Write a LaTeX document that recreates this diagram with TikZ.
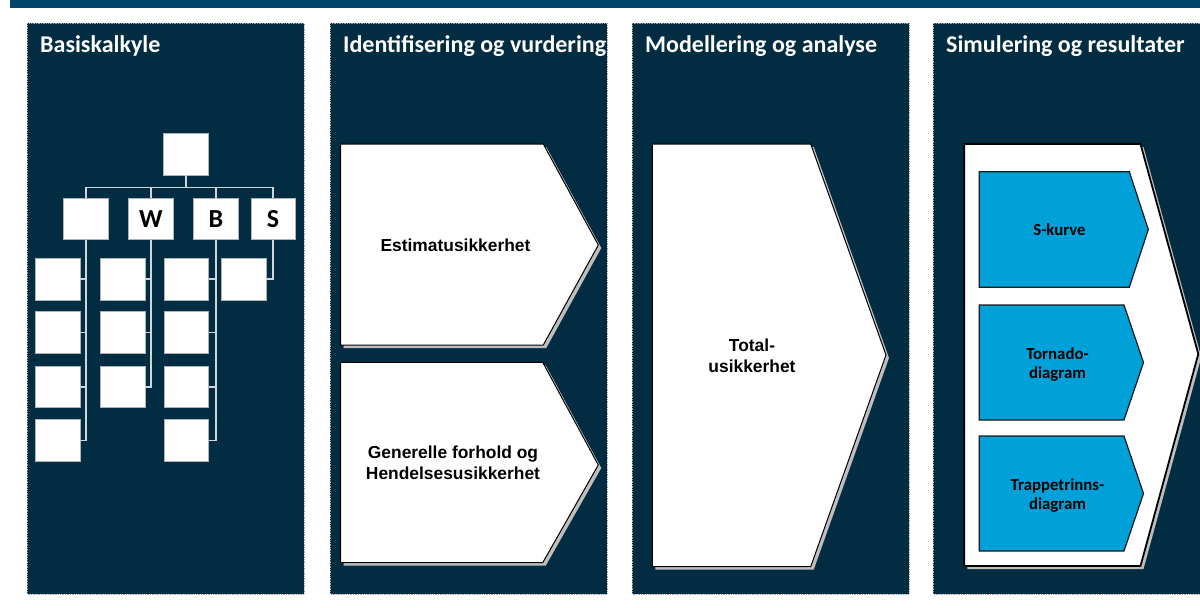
\documentclass[tikz,border=0pt]{standalone}
\usepackage{fontspec}
\setmainfont{Carlito}
\newfontfamily\arialfont{Liberation Sans}
\definecolor{topbar}{RGB}{0,70,106}
\definecolor{panelbg}{RGB}{2,44,66}
\definecolor{wbsline}{RGB}{205,214,220}
\definecolor{shadowgray}{RGB}{190,190,190}
\definecolor{chevblue}{RGB}{0,161,217}
\tikzset{
  panel/.style={fill=panelbg, draw=gray!70, densely dotted, line width=0.7pt},
  ptitle/.style={anchor=base west, text=white, inner sep=0pt, font=\bfseries\fontsize{24}{28}\selectfont},
  wbsbox/.style={draw=gray!60, fill=white, line width=0.6pt, inner sep=0pt, outer sep=0pt, minimum width=44.5pt, minimum height=41.5pt, font=\bfseries\fontsize{26}{30}\selectfont},
  wbslink/.style={draw=wbsline, line width=1.5pt},
  chev/.style={fill=white, draw=black, line width=1pt, line join=miter},
  chevshadow/.style={fill=shadowgray},
  bluechev/.style={fill=chevblue, draw=black!90, line width=1.2pt},
  ctext/.style={inner sep=0pt, align=center, font=\arialfont\bfseries\fontsize{17.4}{20.5}\selectfont},
  btext/.style={inner sep=0pt, align=center, font=\bfseries\fontsize{16.8}{19.5}\selectfont}
}
\begin{document}
\begin{tikzpicture}[x=1pt,y=-1pt]
\useasboundingbox (0,0) rectangle (1200,608);
% top bar
\fill[topbar] (10,0) rectangle (1205,7.5);
% panels
\draw[panel] (27,23.3) rectangle (304.3,594);
\draw[panel] (330.3,23.3) rectangle (607.3,594);
\draw[panel] (632,23.3) rectangle (909,594);
\draw[panel] (933.3,23.3) rectangle (1210,594);
% titles
\begin{scope}
\clip (330.3,23.3) rectangle (607.3,594);
\node[ptitle] (t2) at (343,52) {Identifisering og vurdering};
\end{scope}
\node[ptitle] (t1) at (40,52) {Basiskalkyle};
\node[ptitle] (t3) at (645,52) {Modellering og analyse};
\node[ptitle] (t4) at (946,52) {Simulering og resultater};

% ---------- WBS tree ----------
\node[wbsbox] (top) at (185.8,154.2) {};
\node[wbsbox] (la) at (85.8,218.8) {};
\node[wbsbox] (lw) at (150.8,218.8) {W};
\node[wbsbox] (lb) at (215.8,218.8) {B};
\node[wbsbox] (ls) at (273.1,218.8) {S};
% level 3
\foreach \c/\x in {a/57.9,w/122.9,b/186.5,s/243.9}{
  \foreach \r/\y in {1/279.2,2/332.5,3/386.8,4/440.5}{
    \coordinate (p\c\r) at (\x,\y);
  }
}
\node[wbsbox] (ca1) at (pa1) {};
\node[wbsbox] (ca2) at (pa2) {};
\node[wbsbox] (ca3) at (pa3) {};
\node[wbsbox] (ca4) at (pa4) {};
\node[wbsbox] (cw1) at (pw1) {};
\node[wbsbox] (cw2) at (pw2) {};
\node[wbsbox] (cw3) at (pw3) {};
\node[wbsbox] (cb1) at (pb1) {};
\node[wbsbox] (cb2) at (pb2) {};
\node[wbsbox] (cb3) at (pb3) {};
\node[wbsbox] (cb4) at (pb4) {};
\node[wbsbox] (cs1) at (ps1) {};
% links
\draw[wbslink] (top.south) -- ++(0,12.5) coordinate (hub);
\draw[wbslink] (hub) -| (la.north);
\draw[wbslink] (hub) -| (lw.north);
\draw[wbslink] (hub) -| (lb.north);
\draw[wbslink] (hub) -| (ls.north);
\foreach \p/\k in {la/ca1,la/ca2,la/ca3,la/ca4,lw/cw1,lw/cw2,lw/cw3,lb/cb1,lb/cb2,lb/cb3,lb/cb4,ls/cs1}{
  \draw[wbslink] (\p.south) |- (\k.east);
}

% ---------- Panel 2 ----------
\fill[chevshadow,shift={(3,3)}] (340.7,144) -- (543.3,144) -- (598.3,245) -- (543.3,345) -- (340.7,345) -- cycle;
\draw[chev] (340.7,144) -- (543.3,144) -- (598.3,245) -- (543.3,345) -- (340.7,345) -- cycle;
\fill[chevshadow,shift={(3,3)}] (340.5,362.3) -- (542.7,362.3) -- (598.3,465) -- (542.7,562.7) -- (340.5,562.7) -- cycle;
\draw[chev] (340.5,362.3) -- (542.7,362.3) -- (598.3,465) -- (542.7,562.7) -- (340.5,562.7) -- cycle;
\node[ctext, anchor=base] (est) at (455.5,251) {Estimatusikkerhet};
\node[ctext] (gen) at (453,463) {Generelle forhold og\\Hendelsesusikkerhet};

% ---------- Panel 3 ----------
\fill[chevshadow,shift={(3,3)}] (652.3,144) -- (810.7,144) -- (886,355) -- (810.7,566.7) -- (652.3,566.7) -- cycle;
\draw[chev] (652.3,144) -- (810.7,144) -- (886,355) -- (810.7,566.7) -- (652.3,566.7) -- cycle;
\node[ctext] (tot) at (752,356) {Total-\\usikkerhet};

% ---------- Panel 4 ----------
\fill[chevshadow,shift={(3,3)}] (964.3,144) -- (1140.5,144) -- (1198.3,354) -- (1140.5,566) -- (964.3,566) -- cycle;
\draw[chev, line width=1.8pt] (964.3,144) -- (1140.5,144) -- (1198.3,354) -- (1140.5,566) -- (964.3,566) -- cycle;
\draw[bluechev] (979.3,171.7) -- (1129.3,171.7) -- (1148.3,229.5) -- (1129.3,287.3) -- (979.3,287.3) -- cycle;
\draw[bluechev] (979.3,305) -- (1124,305) -- (1143.5,362.5) -- (1124,420) -- (979.3,420) -- cycle;
\draw[bluechev] (979.3,436) -- (1124,436) -- (1143.5,493.5) -- (1124,551) -- (979.3,551) -- cycle;
\node[btext, anchor=base] (sk) at (1059.5,235.7) {S-kurve};
\node[btext] (tor) at (1057.5,364.5) {Tornado-\\diagram};
\node[btext] (trp) at (1057.5,495.5) {Trappetrinns-\\diagram};
\end{tikzpicture}
\end{document}
